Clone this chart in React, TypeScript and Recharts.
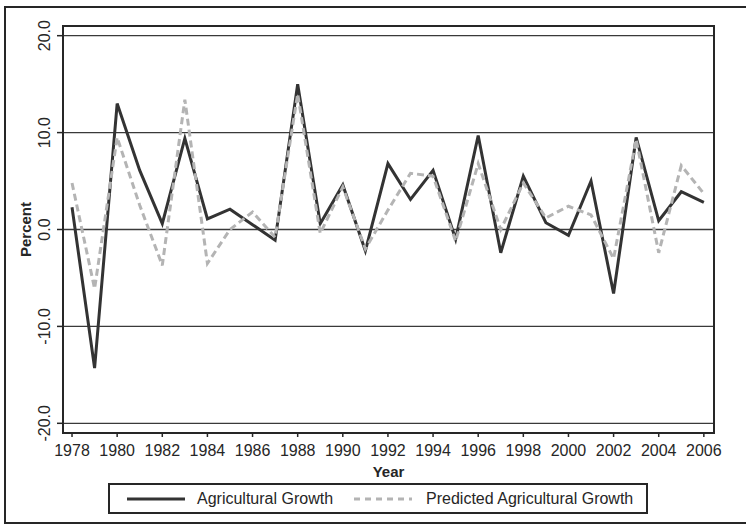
import { LineChart, Line, XAxis, YAxis, CartesianGrid, Legend, ReferenceArea } from 'recharts';

const years = [
  1978, 1979, 1980, 1981, 1982, 1983, 1984, 1985, 1986, 1987, 1988, 1989, 1990, 1991, 1992,
  1993, 1994, 1995, 1996, 1997, 1998, 1999, 2000, 2001, 2002, 2003, 2004, 2005, 2006,
];

const agriculturalGrowth = [
  2.3, -14.3, 13.0, 6.1, 0.6, 9.4, 1.1, 2.1, 0.5, -1.1, 15.0, 0.6, 4.6, -2.2, 6.8,
  3.1, 6.1, -1.0, 9.7, -2.4, 5.5, 0.7, -0.6, 5.0, -6.6, 9.5, 0.9, 3.9, 2.8,
];

const predictedGrowth = [
  4.8, -6.1, 9.5, 2.5, -3.7, 13.4, -3.5, 0.0, 1.8, -0.8, 14.0, -0.4, 4.4, -2.0, 2.0,
  5.8, 5.5, -1.2, 6.8, 0.0, 4.8, 1.2, 2.4, 1.5, -3.0, 9.3, -2.4, 6.6, 3.7,
];

const xTicks = [1978, 1980, 1982, 1984, 1986, 1988, 1990, 1992, 1994, 1996, 1998, 2000, 2002, 2004, 2006];
const yTicks = [-20, -10, 0, 10, 20];

const data = years.map((year, i) => ({
  year,
  actual: agriculturalGrowth[i],
  predicted: predictedGrowth[i],
}));

const FONT = 'Arial, "Liberation Sans", sans-serif';
const INK = '#262626';

// y tick labels are written sideways, like the original
const YTick = ({ x, y, payload }: any) => (
  <text
    x={x - 5}
    y={y}
    transform={`rotate(-90, ${x - 5}, ${y})`}
    textAnchor="middle"
    fontSize={16}
    fontFamily={FONT}
    fill={INK}
  >
    {Number(payload.value).toFixed(1)}
  </text>
);

const LegendBox = ({ payload }: any) => (
  <div
    style={{
      border: `2px solid ${INK}`,
      height: 27,
      display: 'flex',
      alignItems: 'center',
      fontFamily: FONT,
      fontSize: 16,
      color: INK,
      boxSizing: 'content-box',
      whiteSpace: 'nowrap',
    }}
  >
    {(payload || []).map((p: any, i: number) => (
      <span key={i} style={{ display: 'flex', alignItems: 'center', marginLeft: i === 0 ? 17 : 21 }}>
        <svg width={58} height={6} style={{ marginRight: i === 0 ? 12 : 14 }}>
          <line
            x1={0}
            y1={3}
            x2={58}
            y2={3}
            stroke={p.color}
            strokeWidth={3}
            strokeDasharray={i === 1 ? '6 5' : undefined}
          />
        </svg>
        {p.value}
      </span>
    ))}
  </div>
);

export default function App() {
  return (
    <div style={{ position: 'absolute', left: 0, top: 0, width: 746, height: 524, overflow: 'hidden', background: '#fff' }}>
      <div
        style={{
          position: 'absolute',
          left: 4,
          top: 6,
          width: 760,
          height: 514,
          border: `2px solid ${INK}`,
        }}
      />
      <LineChart
        width={746}
        height={524}
        data={data}
        margin={{ top: 26, right: 32, left: 0, bottom: 46 }}
        style={{ position: 'absolute', left: 0, top: 0 }}
      >
        <CartesianGrid horizontal vertical={false} stroke="#3a3a3a" strokeWidth={1.3} />
        <ReferenceArea
          x1={1977.6}
          x2={2006.45}
          y1={-21}
          y2={21}
          fill="none"
          stroke={INK}
          strokeWidth={2}
          ifOverflow="visible"
        />
        <XAxis
          dataKey="year"
          type="number"
          domain={[1977.6, 2006.45]}
          ticks={xTicks}
          allowDataOverflow
          height={45}
          tickSize={4}
          tickMargin={8}
          tickLine={{ stroke: INK, strokeWidth: 1.5 }}
          axisLine={{ stroke: INK, strokeWidth: 2 }}
          tick={{ fontSize: 16, fontFamily: FONT, fill: INK }}
          label={{ value: 'Year', position: 'insideBottom', offset: 1, fontSize: 15, fontWeight: 'bold', fontFamily: FONT, fill: INK }}
        />
        <YAxis
          type="number"
          domain={[-21, 21]}
          ticks={yTicks}
          allowDataOverflow
          width={63}
          tickSize={6}
          tickLine={{ stroke: INK, strokeWidth: 1.5 }}
          axisLine={{ stroke: INK, strokeWidth: 2 }}
          tick={<YTick />}
          label={{
            value: 'Percent',
            angle: -90,
            position: 'insideLeft',
            offset: 26,
            fontSize: 15,
            fontWeight: 'bold',
            fontFamily: FONT,
            fill: INK,
            style: { textAnchor: 'middle' },
          }}
        />
        <Legend
          layout="horizontal"
          verticalAlign="middle"
          align="center"
          content={<LegendBox />}
          wrapperStyle={{ position: 'absolute', left: 108, top: 483, width: 540, height: 31 }}
        />
        <Line
          type="linear"
          dataKey="actual"
          name="Agricultural Growth"
          stroke="#333333"
          strokeWidth={3}
          dot={false}
          isAnimationActive={false}
        />
        <Line
          type="linear"
          dataKey="predicted"
          name="Predicted Agricultural Growth"
          stroke="#b4b4b4"
          strokeWidth={3}
          strokeDasharray="7 4"
          dot={false}
          isAnimationActive={false}
        />
      </LineChart>
    </div>
  );
}
